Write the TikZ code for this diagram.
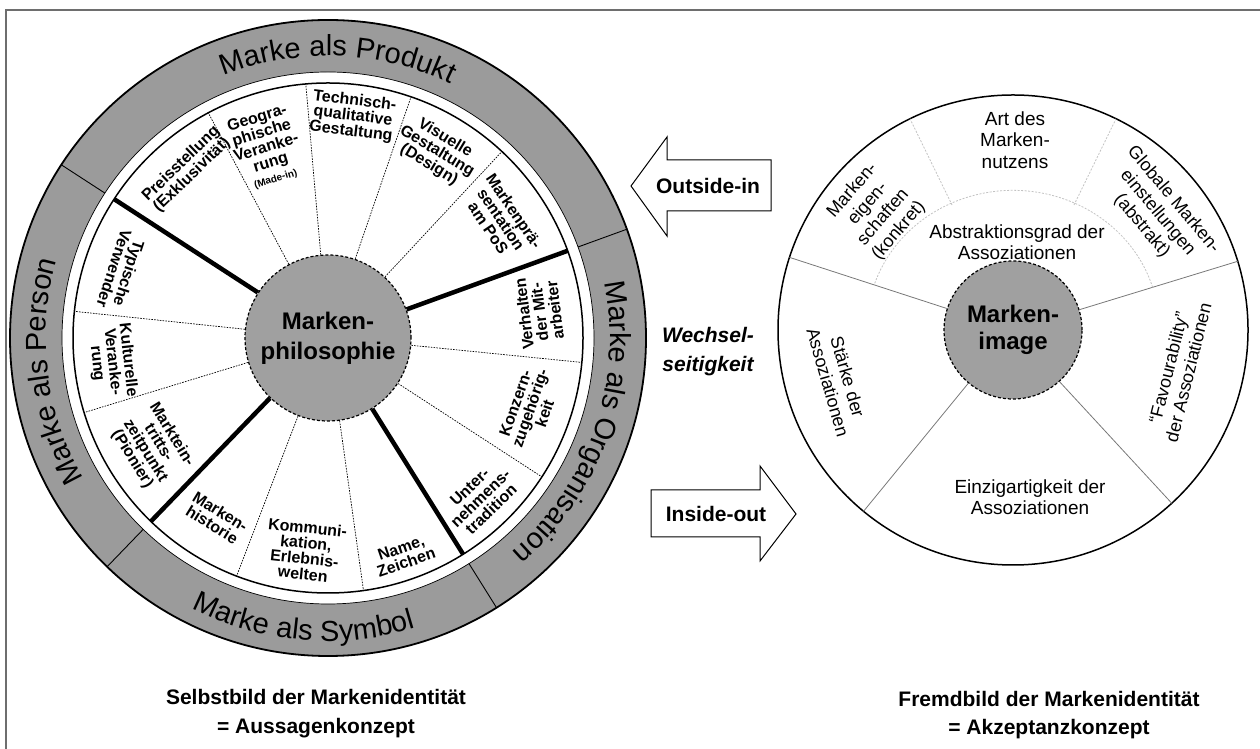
\documentclass[tikz,border=0pt]{standalone}
\usepackage{fontspec}
\setmainfont{Liberation Sans}
\usetikzlibrary{calc,decorations.text}
\definecolor{ringgray}{RGB}{155,155,155}
\definecolor{hubgray}{RGB}{160,160,160}
\definecolor{framegray}{RGB}{110,110,110}
\definecolor{lightdiv}{RGB}{195,195,195}
\definecolor{spokegray}{RGB}{120,120,120}
\begin{document}
\begin{tikzpicture}[x=1pt,y=1pt,
  segtext/.style={font=\bfseries\fontsize{16}{15.5}\selectfont, align=center, inner sep=0pt},
  imgtext/.style={font=\fontsize{19}{21.5}\selectfont, align=center, inner sep=0pt},
  rimgtext/.style={font=\fontsize{18}{20.5}\selectfont, align=center, inner sep=0pt},
  hubnode/.style={circle, fill=hubgray, draw, line width=1.2pt, dash pattern=on 3pt off 2pt, inner sep=0pt, align=center},
  thickspoke/.style={line width=4.5pt},
  dotspoke/.style={line width=0.7pt, dash pattern=on 1.6pt off 1.2pt},
  greyspoke/.style={spokegray, line width=0.8pt},
  lightdot/.style={lightdiv, line width=0.8pt, dash pattern=on 2pt off 1.5pt},
  blockarrow/.style={draw, line width=1pt, fill=white},
  arrowlabel/.style={font=\bfseries\fontsize{21}{21}\selectfont, inner sep=0pt},
  caption/.style={font=\bfseries\fontsize{21}{21}\selectfont, inner sep=0pt}
]
\useasboundingbox (0,0) rectangle (1260,749);
\draw[framegray, line width=1.2pt] (6,0) -- (6,739) -- (1260,739);

\coordinate (L) at (328,411);
\coordinate (R) at (1013,419);

% ---------- left wheel ----------
\fill[ringgray, even odd rule] (L) circle[radius=318] (L) circle[radius=266];
\draw[line width=1.8pt] (L) circle[radius=318];
\draw[line width=0.7pt] (L) circle[radius=266];
\draw[line width=1.5pt] (L) circle[radius=255];
\foreach \a in {147,20,-58,226}
  \draw[line width=0.9pt] ($(L)+(\a:266)$) -- ($(L)+(\a:318)$);

\path[decorate, decoration={text along path, text align=center,
  text={|\fontsize{29}{29}\selectfont|Marke  als  Produkt}}]
  ($(L)+(148:282)$) arc[start angle=148, end angle=28, radius=282];
\path[decorate, decoration={text along path, text align=center,
  text={|\fontsize{29}{29}\selectfont|Marke  als  Person}}]
  ($(L)+(227:282)$) arc[start angle=227, end angle=147, radius=282];
\path[decorate, decoration={text along path, text align=center,
  text={|\fontsize{29}{29}\selectfont|Marke  als Organisation}}]
  ($(L)+(30:282)$) arc[start angle=30, end angle=-68, radius=282];
\path[decorate, decoration={text along path, text align=center,
  text={|\fontsize{29}{29}\selectfont|Marke als Symbol}}]
  ($(L)+(220:303)$) arc[start angle=220, end angle=310, radius=303];

\node[hubnode, minimum size=166pt, font=\bfseries\fontsize{24}{30}\selectfont] (hub) at (L) {Marken-\\philosophie};

\foreach \a in {147,20,-58,226}
  \draw[thickspoke] (hub.\a) -- ($(L)+(\a:255)$);
\foreach \a in {47,71,95,118,174,197,249,278,-33,-5.5}
  \draw[dotspoke] (hub.\a) -- ($(L)+(\a:255)$);

\node[segtext, rotate=-56] (tPraes) at ($(L)+(34.4:210)$) {Markenprä-\\sentation\\am PoS};
\node[segtext, rotate=-31] (tVis) at ($(L)+(59.7:216)$) {Visuelle\\Gestaltung\\(Design)};
\node[segtext, rotate=-7] (tTech) at ($(L)+(83.6:223)$) {Technisch-\\qualitative\\Gestaltung};
\node[segtext, rotate=17] (tGeo) at ($(L)+(108:200)$) {Geogra-\\phische\\Veranke-\\rung\\{\fontsize{10}{11}\selectfont(Made-in)}};
\node[segtext, rotate=44] (tPreis) at ($(L)+(130:220)$) {Preisstellung\\(Exklusivität)};
\node[segtext, rotate=-108] (tTyp) at ($(L)+(162:217)$) {Typische\\Verwender};
\node[segtext, rotate=-83.7] (tKult) at ($(L)+(186.3:217)$) {Kulturelle\\Veranke-\\rung};
\node[segtext, rotate=-58.3] (tMarkt) at ($(L)+(211.7:207)$) {Marktein-\\tritts-\\zeitpunkt\\(Pionier)};
\node[segtext, rotate=-31.8] (tHist) at ($(L)+(238.2:212)$) {Marken-\\historie};
\node[segtext, rotate=-6] (tKomm) at ($(L)+(263.9:214)$) {Kommuni-\\kation,\\Erlebnis-\\welten};
\node[segtext, rotate=19] (tName) at ($(L)+(289.2:230)$) {Name,\\Zeichen};
\node[segtext, rotate=43.6] (tUnter) at ($(L)+(-46.4:221)$) {Unter-\\nehmens-\\tradition};
\node[segtext, rotate=70.8] (tKonz) at ($(L)+(-19.2:214)$) {Konzern-\\zugehörig-\\keit};
\node[segtext, rotate=97] (tVerh) at ($(L)+(7:213)$) {Verhalten\\der Mit-\\arbeiter};

% ---------- right wheel ----------
\draw[line width=1.5pt] (R) circle[radius=235];
\node[hubnode, minimum size=138pt, font=\bfseries\fontsize{24}{27}\selectfont] (imghub) at (R) {Marken-\\image};
\foreach \a in {162,17,230.5,312.5}
  \draw[greyspoke] (imghub.\a) -- ($(R)+(\a:235)$);
\draw[lightdot] ($(R)+(17:146)$) arc[start angle=17, end angle=162, x radius=146, y radius=137];
\foreach \a in {64,116}
  \draw[lightdot] ($(R)+(\a:139)$) -- ($(R)+(\a:235)$);

\node[imgtext] (tArt) at (1015,609) {Art des\\Marken-\\nutzens};
\node[imgtext] (tAbst) at (1017,507) {Abstraktionsgrad der\\Assoziationen};
\node[rimgtext, rotate=49] (tEig) at ($(R)+(139:182)$) {Marken-\\eigen-\\schaften\\(konkret)};
\node[rimgtext, rotate=-50] (tGlob) at ($(R)+(39:186)$) {Globale Marken-\\einstellungen\\(abstrakt)};
\node[rimgtext, rotate=-74] (tStaerke) at ($(R)+(195.8:182)$) {Stärke der\\Assoziationen};
\node[rimgtext, rotate=76] (tFav) at ($(R)+(-13.6:170)$) {“Favourability”\\der Assoziationen};
\node[imgtext] (tEinz) at (1030,252) {Einzigartigkeit der\\Assoziationen};

% ---------- arrows ----------
\draw[blockarrow] (631,563) -- (667,612) -- (667,589) -- (771,589) -- (771,538) -- (667,538) -- (667,513) -- cycle;
\node[arrowlabel] (lOut) at (708,563) {Outside-in};
\draw[blockarrow] (796,235) -- (760,283) -- (760,259) -- (651,259) -- (651,212) -- (760,212) -- (760,188) -- cycle;
\node[arrowlabel] (lIn) at (716,235) {Inside-out};

\node[font=\bfseries\itshape\fontsize{21}{29}\selectfont, align=center, inner sep=0pt] (wech) at (708,397) {Wechsel-\\seitigkeit};

\node[caption] (capL1) at (316,52) {Selbstbild der Markenidentität};
\node[caption] (capL2) at (316,21) {= Aussagenkonzept};
\node[caption] (capR1) at (1049,50) {Fremdbild der Markenidentität};
\node[caption] (capR2) at (1049,20) {= Akzeptanzkonzept};
\end{tikzpicture}
\end{document}
